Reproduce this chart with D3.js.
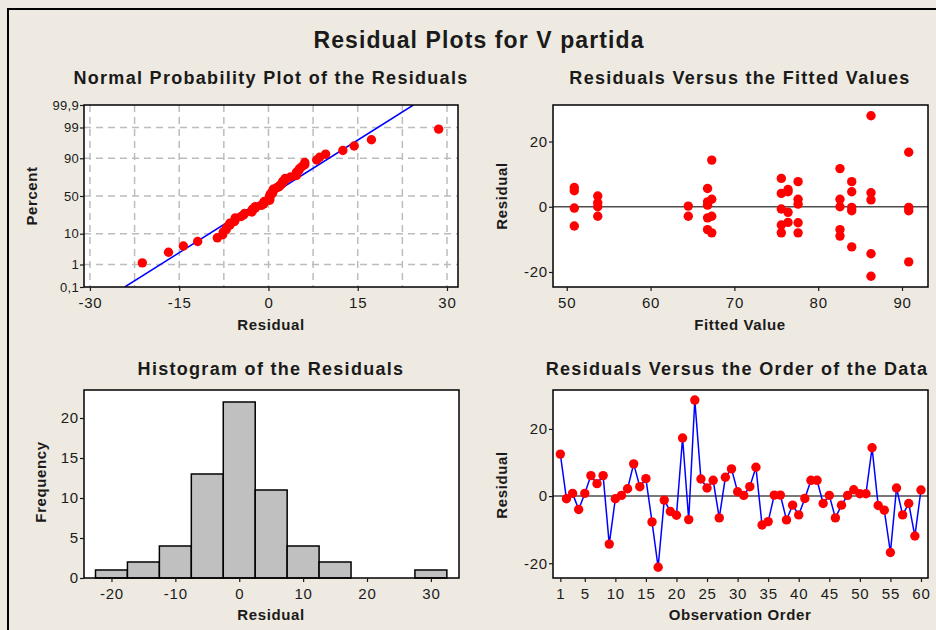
<!DOCTYPE html>
<html>
<head>
<meta charset="utf-8">
<script src="https://cdn.jsdelivr.net/npm/d3@7/dist/d3.min.js"></script>
<style>
  body { margin: 0; background: #eeeae1; }
</style>
</head>
<body>
<svg id="vis" width="936" height="630"></svg>
<script>
// residuals in observation order
const residuals = [12.5, -0.8, 0.8, -4.0, 0.8, 6.1, 3.7, 6.1, -14.3, -0.8,
                   0.2, 2.2, 9.6, 2.8, 5.2, -7.7, -21.2, -1.2, -4.6, -5.7,
                   17.3, -7.0, 28.6, 5.1, 2.4, 4.7, -6.5, 5.6, 8.1, 1.3,
                   0.2, 2.8, 8.6, -8.6, -7.6, 0.3, 0.3, -7.1, -2.7, -5.6,
                   -0.7, 4.7, 4.7, -2.2, 0.2, -6.5, -2.7, 0.2, 1.9, 0.7,
                   0.7, 14.4, -2.8, -4.2, -16.8, 2.4, -5.6, -2.2, -11.9, 1.8];
const observationOrder = d3.range(1, 61);

// residual vs fitted value pairs
const fittedValues = [50.9, 50.9, 50.9, 50.9, 53.7, 53.7, 53.7, 53.7,
                      64.5, 64.5, 66.8, 66.8, 66.8, 66.8, 66.8,
                      67.3, 67.3, 67.3, 67.3, 75.6, 75.6, 75.6, 75.6, 75.6,
                      76.4, 76.4, 76.4, 76.4, 77.6, 77.6, 77.6, 77.6, 77.6,
                      82.6, 82.6, 82.6, 82.6, 82.6, 84.0, 84.0, 84.0, 84.0, 84.0,
                      86.3, 86.3, 86.3, 86.3, 86.3, 90.8, 90.8, 90.8, 90.8];
const fittedResiduals = [5.9, 4.9, -0.4, -5.9, 3.3, 1.2, 0.0, -2.9,
                         0.2, -2.9, 5.6, 1.5, 0.5, -3.4, -7.0,
                         14.3, 2.3, -2.9, -8.0, 8.7, 4.1, -0.7, -5.6, -8.0,
                         5.3, 4.6, -1.7, -4.8, 7.7, 2.3, 0.8, -4.9, -8.0,
                         11.7, 2.3, 0.0, -7.0, -9.0, 7.7, 4.6, -0.2, -1.2, -12.3,
                         27.9, 4.3, 2.1, -14.4, -21.3, 16.7, -0.2, -1.2, -16.9];

// histogram
const binCenters = [-20, -15, -10, -5, 0, 5, 10, 15, 20, 25, 30];
const binCounts = [1, 2, 4, 13, 22, 11, 4, 2, 0, 0, 1];

// tick values and labels
const probTicks = [0.1, 1, 10, 50, 90, 99, 99.9];
const probLabels = ["0,1", "1", "10", "50", "90", "99", "99,9"];
const probXTicks = [-30, -15, 0, 15, 30];
const probXGrid = [-30, -22.5, -15, -7.5, 0, 7.5, 15, 22.5, 30];
const fittedXTicks = [50, 60, 70, 80, 90];
const residTicks = [-20, 0, 20];
const histXTicks = [-20, -10, 0, 10, 20, 30];
const histYTicks = [0, 5, 10, 15, 20];
const orderTicks = [1, 5, 10, 15, 20, 25, 30, 35, 40, 45, 50, 55, 60];

const FONT = "'Liberation Sans', Arial, sans-serif";
const INK = "#1a1a1a";
const plain = d => String(d);   // keep the ascii hyphen for negatives

function normInv(p){
    const a = [-39.69683028665376, 220.9460984245205, -275.9285104469687, 138.3577518672690, -30.66479806614716, 2.506628277459239];
    const b = [-54.47609879822406, 161.5858368580409, -155.6989798598866, 66.80131188771972, -13.28068155288572];
    const c = [-0.007784894002430293, -0.3223964580411365, -2.400758277161838, -2.549732539343734, 4.374664141464968, 2.938163982698783];
    const d = [0.007784695709041462, 0.3224671290700398, 2.445134137142996, 3.754408661907416];
    const pl = 0.02425;
    let q, r;
    if (p < pl) {
        q = Math.sqrt(-2 * Math.log(p));
        return (((((c[0]*q+c[1])*q+c[2])*q+c[3])*q+c[4])*q+c[5]) / ((((d[0]*q+d[1])*q+d[2])*q+d[3])*q+1);
    }
    if (p > 1 - pl) {
        q = Math.sqrt(-2 * Math.log(1 - p));
        return -(((((c[0]*q+c[1])*q+c[2])*q+c[3])*q+c[4])*q+c[5]) / ((((d[0]*q+d[1])*q+d[2])*q+d[3])*q+1);
    }
    q = p - 0.5; r = q * q;
    return (((((a[0]*r+a[1])*r+a[2])*r+a[3])*r+a[4])*r+a[5])*q / (((((b[0]*r+b[1])*r+b[2])*r+b[3])*r+b[4])*r+1);
}

const canvas = d3.select("#vis");

canvas.append("rect").attr("width", 936).attr("height", 630).style("fill", "#eeeae1");
canvas.append("path")
    .attr("d", "M8,630 V9 H936")
    .attr("fill", "none").attr("stroke", "#000").attr("stroke-width", 2);

function addText(x, y, text, size, weight, spacing, rotate){
    return canvas.append("text")
        .attr("text-anchor", "middle")
        .attr("transform", "translate(" + x + "," + y + ")" + (rotate ? " rotate(-90)" : ""))
        .style("font-family", FONT)
        .style("font-size", size + "px")
        .style("font-weight", weight)
        .style("letter-spacing", spacing + "px")
        .style("fill", INK)
        .text(text);
}

function makePlotArea(x0, y0, x1, y1){
    canvas.append("rect")
        .attr("x", x0).attr("y", y0)
        .attr("width", x1 - x0).attr("height", y1 - y0)
        .style("fill", "#fff");
}

function makeFrame(x0, y0, x1, y1){
    canvas.append("rect")
        .attr("x", x0).attr("y", y0)
        .attr("width", x1 - x0).attr("height", y1 - y0)
        .style("fill", "none").style("stroke", "#000").style("stroke-width", 1.5);
}

function styleAxis(g){
    g.select(".domain").remove();
    g.selectAll(".tick line").attr("stroke", INK).attr("stroke-width", 1.2);
    g.selectAll(".tick text")
        .style("font-family", FONT).style("font-size", "15px")
        .style("letter-spacing", "0.8px").style("fill", INK);
}

function addAxes(xScale, yScale, xTicks, yTicks, x0, y1){
    canvas.append("g")
        .attr("transform", "translate(0," + y1 + ")")
        .call(d3.axisBottom(xScale).tickValues(xTicks).tickSize(4).tickPadding(6).tickFormat(plain))
        .call(styleAxis);
    canvas.append("g")
        .attr("transform", "translate(" + x0 + ",0)")
        .call(d3.axisLeft(yScale).tickValues(yTicks).tickSize(4).tickPadding(1).tickFormat(plain))
        .call(styleAxis);
}

function plotDots(data, xScale, yScale, xKey, yKey){
    canvas.append("g").selectAll("circle")
        .data(data).join("circle")
        .attr("cx", d => xScale(d[xKey]))
        .attr("cy", d => yScale(d[yKey]))
        .attr("r", 4.7)
        .style("fill", "#ff0000");
}

function zeroLine(xScale, yScale){
    canvas.append("line")
        .attr("x1", xScale.range()[0]).attr("x2", xScale.range()[1])
        .attr("y1", yScale(0)).attr("y2", yScale(0))
        .attr("stroke", "#4d4d4d").attr("stroke-width", 1.5);
}

// title
addText(479, 48, "Residual Plots for V partida", 23, "bold", 1.1);

// ---- Normal probability plot ----
{
    const x0 = 84, y0 = 105, x1 = 458, y1 = 287;
    const zMax = normInv(0.999);
    const x = d3.scaleLinear().domain([-31.0, 31.85]).range([x0, x1]);
    const y = d3.scaleLinear().domain([-zMax, zMax]).range([y1, y0]);
    const n = residuals.length;
    const sorted = residuals.slice().sort(d3.ascending);
    const pts = sorted.map((r, i) => ({ r: r, z: normInv((i + 1 - 0.3) / (n + 0.4)) }));
    const mu = d3.mean(residuals), sd = d3.deviation(residuals);

    makePlotArea(x0, y0, x1, y1);
    const grid = canvas.append("g")
        .attr("stroke", "#bcbcbc").attr("stroke-width", 1.5).attr("stroke-dasharray", "7,5");
    grid.selectAll(".v").data(probXGrid).join("line")
        .attr("x1", d => x(d)).attr("x2", d => x(d)).attr("y1", y0).attr("y2", y1);
    grid.selectAll(".h").data(probTicks.slice(1, -1)).join("line")
        .attr("x1", x0).attr("x2", x1)
        .attr("y1", d => y(normInv(d / 100))).attr("y2", d => y(normInv(d / 100)));

    canvas.append("defs").append("clipPath").attr("id", "clipNorm")
        .append("rect").attr("x", x0).attr("y", y0).attr("width", x1 - x0).attr("height", y1 - y0);
    canvas.append("line")
        .attr("clip-path", "url(#clipNorm)")
        .attr("x1", x(mu - zMax * sd)).attr("y1", y(-zMax))
        .attr("x2", x(mu + zMax * sd)).attr("y2", y(zMax))
        .attr("stroke", "#0000ff").attr("stroke-width", 1.5);
    plotDots(pts, x, y, "r", "z");

    makeFrame(x0, y0, x1, y1);
    canvas.append("g")
        .attr("transform", "translate(0," + y1 + ")")
        .call(d3.axisBottom(x).tickValues(probXTicks).tickSize(4).tickPadding(6).tickFormat(plain))
        .call(styleAxis);
    canvas.append("g")
        .attr("transform", "translate(" + x0 + ",0)")
        .call(d3.axisLeft(y).tickValues(probTicks.map(p => normInv(p / 100))).tickSize(4).tickPadding(1)
            .tickFormat((d, i) => probLabels[i]))
        .call(styleAxis)
        .selectAll(".tick text").style("font-size", "13px").style("letter-spacing", "0.3px");

    addText(271, 84, "Normal Probability Plot of the Residuals", 18, "bold", 1.3);
    addText(271, 330, "Residual", 15, "bold", 0.6);
    addText(37, 196, "Percent", 15, "bold", 0.6, true);
}

// ---- Residuals vs fitted ----
{
    const x0 = 553, y0 = 105, x1 = 928, y1 = 287;
    const x = d3.scaleLinear().domain([48.36, 93.1]).range([x0, x1]);
    const y = d3.scaleLinear().domain([-24.6, 31.2]).range([y1, y0]);
    const pts = fittedValues.map((f, i) => ({ f: f, r: fittedResiduals[i] }));

    makePlotArea(x0, y0, x1, y1);
    zeroLine(x, y);
    plotDots(pts, x, y, "f", "r");
    makeFrame(x0, y0, x1, y1);
    addAxes(x, y, fittedXTicks, residTicks, x0, y1);

    addText(740, 84, "Residuals Versus the Fitted Values", 18, "bold", 1.3);
    addText(740, 330, "Fitted Value", 15, "bold", 0.6);
    addText(507, 196, "Residual", 15, "bold", 0.6, true);
}

// ---- Histogram ----
{
    const x0 = 84, y0 = 390, x1 = 459, y1 = 578;
    const x = d3.scaleLinear().domain([-24.3, 34.4]).range([x0, x1]);
    const y = d3.scaleLinear().domain([0, 23.5]).range([y1, y0]);
    const w = binCenters[1] - binCenters[0];

    makePlotArea(x0, y0, x1, y1);
    canvas.append("g").selectAll("rect")
        .data(binCenters).join("rect")
        .attr("x", d => x(d - w / 2))
        .attr("y", (d, i) => y(binCounts[i]))
        .attr("width", d => x(d + w / 2) - x(d - w / 2))
        .attr("height", (d, i) => y(0) - y(binCounts[i]))
        .style("fill", "#c0c0c0")
        .style("stroke", "#000").style("stroke-width", 1.5);
    makeFrame(x0, y0, x1, y1);
    addAxes(x, y, histXTicks, histYTicks, x0, y1);

    addText(271, 375, "Histogram of the Residuals", 18, "bold", 1.3);
    addText(271, 620, "Residual", 15, "bold", 0.6);
    addText(46, 482, "Frequency", 15, "bold", 0.6, true);
}

// ---- Residuals vs order ----
{
    const x0 = 553, y0 = 390, x1 = 928, y1 = 578;
    const x = d3.scaleLinear().domain([-0.2, 61.15]).range([x0, x1]);
    const y = d3.scaleLinear().domain([-24.4, 31.6]).range([y1, y0]);
    const pts = residuals.map((r, i) => ({ o: observationOrder[i], r: r }));

    makePlotArea(x0, y0, x1, y1);
    zeroLine(x, y);
    canvas.append("path")
        .datum(pts)
        .attr("fill", "none")
        .attr("stroke", "#0000ff")
        .attr("stroke-width", 1.5)
        .attr("d", d3.line().x(d => x(d.o)).y(d => y(d.r)));
    plotDots(pts, x, y, "o", "r");
    makeFrame(x0, y0, x1, y1);
    addAxes(x, y, orderTicks, residTicks, x0, y1);

    addText(737, 375, "Residuals Versus the Order of the Data", 18, "bold", 1.3);
    addText(740, 620, "Observation Order", 15, "bold", 0.6);
    addText(507, 485, "Residual", 15, "bold", 0.6, true);
}
</script>
</body>
</html>
